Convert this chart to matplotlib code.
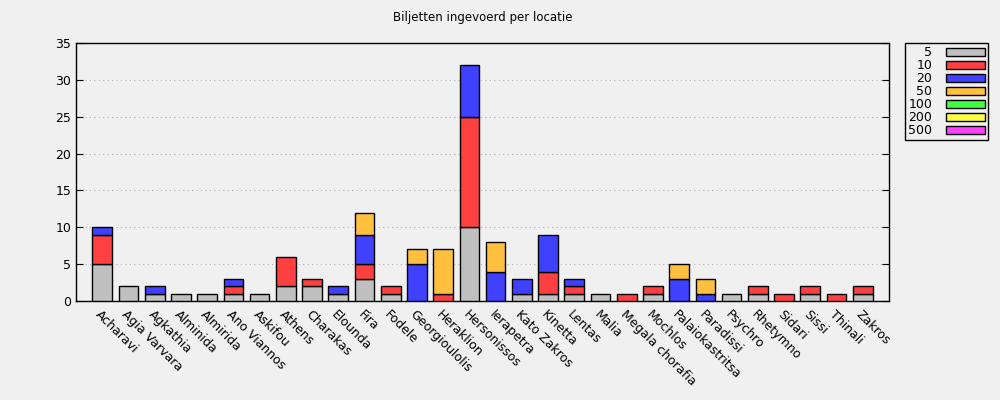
import matplotlib
matplotlib.use('Agg')
import matplotlib.pyplot as plt
from matplotlib.patches import Patch
import numpy as np

locations = ['Acharavi', 'Agia Varvara', 'Agkathia', 'Alminida', 'Almirida',
             'Ano Viannos', 'Askifou', 'Athens', 'Charakas', 'Elounda', 'Fira',
             'Fodele', 'Georgioulolis', 'Heraklion', 'Hersonissos', 'Ierapetra',
             'Kato Zakros', 'Kinetta', 'Lentas', 'Malia', 'Megala chorafia',
             'Mochlos', 'Palaiokastritsa', 'Paradissi', 'Psychro', 'Rhetymno',
             'Sidari', 'Sissi', 'Thinali', 'Zakros']

denominations = ['5', '10', '20', '50', '100', '200', '500']

# counts per denomination, one value per location
n5   = [5, 2, 1, 1, 1, 1, 1, 2, 2, 1, 3, 1, 0, 0, 10, 0, 1, 1, 1, 1, 0, 1, 0, 0, 1, 1, 0, 1, 0, 1]
n10  = [4, 0, 0, 0, 0, 1, 0, 4, 1, 0, 2, 1, 0, 1, 15, 0, 0, 3, 1, 0, 1, 1, 0, 0, 0, 1, 1, 1, 1, 1]
n20  = [1, 0, 1, 0, 0, 1, 0, 0, 0, 1, 4, 0, 5, 0, 7, 4, 2, 5, 1, 0, 0, 0, 3, 1, 0, 0, 0, 0, 0, 0]
n50  = [0, 0, 0, 0, 0, 0, 0, 0, 0, 0, 3, 0, 2, 6, 0, 4, 0, 0, 0, 0, 0, 0, 2, 2, 0, 0, 0, 0, 0, 0]
n100 = [0] * 30
n200 = [0] * 30
n500 = [0] * 30

colors = ['#c0c0c0', '#ff4040', '#4040ff', '#ffc040', '#40ff40', '#ffff40', '#ff40ff']
bg = '#f0f0f0'

fig = plt.figure(figsize=(10, 4), dpi=100, facecolor=bg)
ax = fig.add_axes([0.076, 0.2475, 0.813, 0.645], facecolor=bg)

x = np.arange(len(locations))
bottom = np.zeros(len(locations))
for vals, col in zip([n5, n10, n20, n50, n100, n200, n500], colors):
    vals = np.array(vals, dtype=float)
    keep = vals > 0
    if keep.any():
        ax.bar(x[keep], vals[keep], width=0.75, bottom=bottom[keep],
               color=col, edgecolor='black', linewidth=1, zorder=3)
    bottom += vals

ax.set_xlim(-1, len(locations))
ax.set_ylim(0, 35)
ax.set_yticks(range(0, 36, 5))
ax.grid(axis='y', linestyle=(0, (1, 3)), color='#b0b0b0', linewidth=0.8, zorder=0)
ax.tick_params(axis='y', direction='in', right=True, length=5, labelsize=9)
ax.tick_params(axis='x', length=0, pad=5)
ax.set_xticks(x)
ax.set_xticklabels(locations, rotation=-45, ha='left', va='top',
                   rotation_mode='anchor', fontsize=9)
for s in ax.spines.values():
    s.set_linewidth(1)

ax.set_title('Biljetten ingevoerd per locatie', fontsize=8.5, pad=16)

handles = [Patch(facecolor=c, edgecolor='black', linewidth=1) for c in colors]
leg = fig.legend(handles, denominations, loc='upper left',
                 bbox_to_anchor=(0.905, 0.8925), borderaxespad=0,
                 markerfirst=False, fontsize=9, handlelength=3.1,
                 handleheight=0.6, labelspacing=0.0, borderpad=0.25,
                 handletextpad=1.1, fancybox=False, framealpha=1,
                 facecolor=bg, edgecolor='black')
leg.get_frame().set_linewidth(1)
for t in leg.get_texts():
    t.set_ha('right')

fig.savefig('out.png', dpi=100, facecolor=bg)
